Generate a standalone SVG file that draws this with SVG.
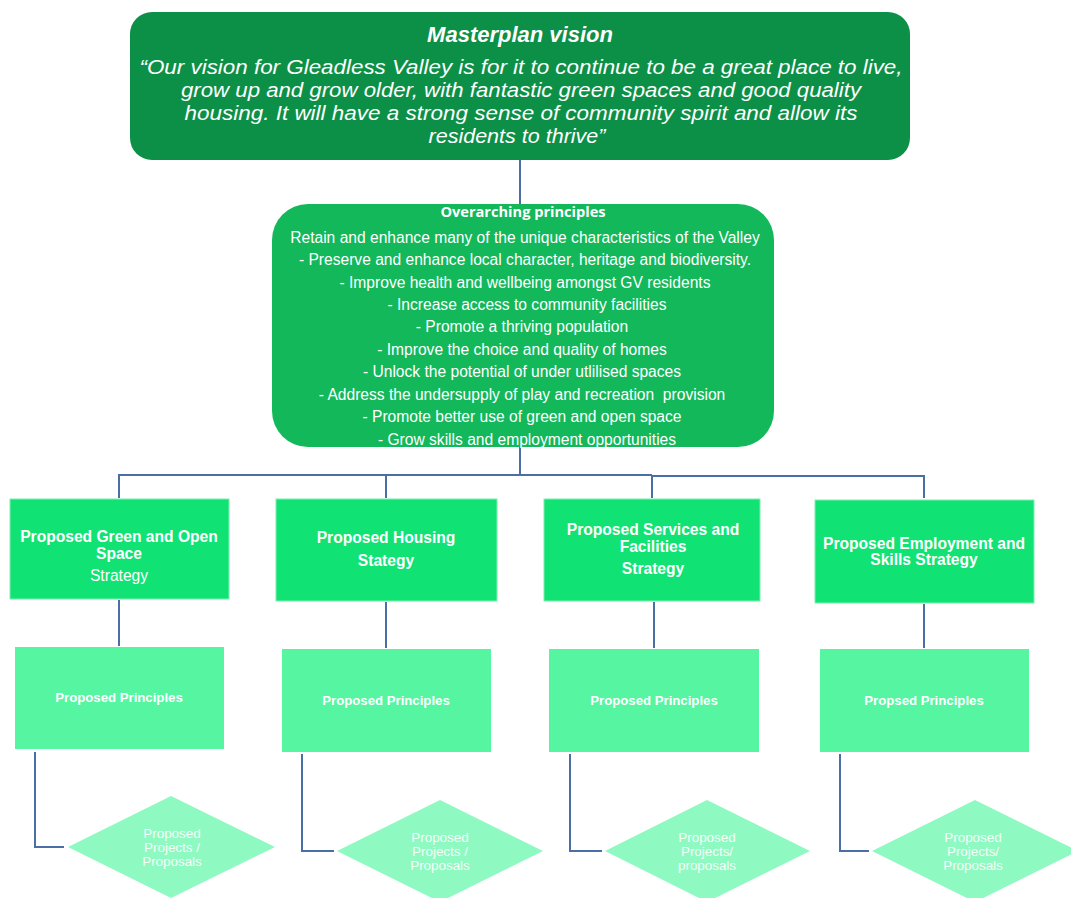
<svg xmlns="http://www.w3.org/2000/svg" width="1071" height="898" viewBox="0 0 1071 898">
<style>
text{font-family:"Liberation Sans",Arial,sans-serif;fill:#fff;text-anchor:middle}
.q{font-size:20px;font-style:italic}
.t{font-size:22px;font-style:italic;font-weight:bold}
.op{font-size:15.6px}
.oh{font-family:"Open Sans","Liberation Sans",sans-serif;font-size:14.6px;font-weight:bold}
.sb{font-size:15.6px;font-weight:bold}
.sn{font-size:15.6px}
.pb{font-size:13.2px;font-weight:bold}
.dt{font-size:13.4px;fill:#f4fff8}
.strat{fill:#10e373;stroke:#7cf0b0;stroke-width:1}
.prin{fill:#55f5a1}
.dia{fill:#8ff9c2}
.con{fill:none;stroke:#4a6fa5;stroke-width:2}
</style>
<g id="connectors">
<path class="con" d="M520 160V205"/>
<path class="con" d="M520 447V475"/>
<path class="con" d="M119 498V475H652"/>
<path class="con" d="M652 476H924V498"/>
<path class="con" d="M386 475V498"/>
<path class="con" d="M652 475V498"/>
<path class="con" d="M119 600V646"/>
<path class="con" d="M386 602V648"/>
<path class="con" d="M654 602V648"/>
<path class="con" d="M924 604V648"/>
<path class="con" d="M35 752V847H64"/>
<path class="con" d="M302 754V851H334"/>
<path class="con" d="M570 754V851H602"/>
<path class="con" d="M840 754V851H869"/>
</g>
<g id="vision">
<rect x="130" y="12" width="780" height="148" rx="22" fill="#0c9047"/>
<text class="t" x="520" y="42">Masterplan vision</text>
<text class="q" x="521" y="74" textLength="763" lengthAdjust="spacingAndGlyphs">“Our vision for Gleadless Valley is for it to continue to be a great place to live,</text>
<text class="q" x="521" y="97" textLength="680" lengthAdjust="spacingAndGlyphs">grow up and grow older, with fantastic green spaces and good quality</text>
<text class="q" x="521" y="120" textLength="673" lengthAdjust="spacingAndGlyphs">housing. It will have a strong sense of community spirit and allow its</text>
<text class="q" x="517" y="143" textLength="177" lengthAdjust="spacingAndGlyphs">residents to thrive”</text>
</g>
<g id="principles">
<rect x="272" y="204" width="502" height="243" rx="36" fill="#12b85a"/>
<text class="oh" x="523" y="217">Overarching principles</text>
<text class="op" x="525" y="243">Retain and enhance many of the unique characteristics of the Valley</text>
<text class="op" x="525" y="265">- Preserve and enhance local character, heritage and biodiversity.</text>
<text class="op" x="525" y="288">- Improve health and wellbeing amongst GV residents</text>
<text class="op" x="527" y="310">- Increase access to community facilities</text>
<text class="op" x="522" y="332">- Promote a thriving population</text>
<text class="op" x="522" y="355">- Improve the choice and quality of homes</text>
<text class="op" x="522" y="377">- Unlock the potential of under utlilised spaces</text>
<text class="op" x="522" y="400">- Address the undersupply of play and recreation&#160; provision</text>
<text class="op" x="522" y="422">- Promote better use of green and open space</text>
<text class="op" x="527" y="445">- Grow skills and employment opportunities</text>
</g>
<g id="strategy-green">
<rect class="strat" x="10" y="499" width="219" height="100"/>
<text class="sb" x="119" y="542">Proposed Green and Open</text>
<text class="sb" x="119" y="559">Space</text>
<text class="sn" x="119" y="581">Strategy</text>
</g>
<g id="strategy-housing">
<rect class="strat" x="276" y="499" width="221" height="102"/>
<text class="sb" x="386" y="543">Proposed Housing</text>
<text class="sb" x="386" y="566">Stategy</text>
</g>
<g id="strategy-services">
<rect class="strat" x="544" y="499" width="216" height="102"/>
<text class="sb" x="653" y="535">Proposed Services and</text>
<text class="sb" x="653" y="552">Facilities</text>
<text class="sb" x="653" y="574">Strategy</text>
</g>
<g id="strategy-employment">
<rect class="strat" x="815" y="500" width="219" height="103"/>
<text class="sb" x="924" y="549">Proposed Employment and</text>
<text class="sb" x="924" y="565">Skills Strategy</text>
</g>
<g id="principles-green">
<rect class="prin" x="15" y="647" width="209" height="102"/>
<text class="pb" x="119" y="702">Proposed Principles</text>
</g>
<g id="principles-housing">
<rect class="prin" x="282" y="649" width="209" height="103"/>
<text class="pb" x="386" y="705">Proposed Principles</text>
</g>
<g id="principles-services">
<rect class="prin" x="549" y="649" width="210" height="103"/>
<text class="pb" x="654" y="705">Proposed Principles</text>
</g>
<g id="principles-employment">
<rect class="prin" x="820" y="649" width="209" height="103"/>
<text class="pb" x="924" y="705">Propsed Principles</text>
</g>
<g id="projects-green">
<polygon class="dia" points="68,847 171,796 275,847 171,898"/>
<text class="dt" x="172" y="838">Proposed</text>
<text class="dt" x="172" y="852">Projects /</text>
<text class="dt" x="172" y="866">Proposals</text>
</g>
<g id="projects-housing">
<polygon class="dia" points="337,851 440,800 543,851 440,902"/>
<text class="dt" x="440" y="842">Proposed</text>
<text class="dt" x="440" y="856">Projects /</text>
<text class="dt" x="440" y="870">Proposals</text>
</g>
<g id="projects-services">
<polygon class="dia" points="605,851 707,800 810,851 707,902"/>
<text class="dt" x="707" y="842">Proposed</text>
<text class="dt" x="707" y="856">Projects/</text>
<text class="dt" x="707" y="870">proposals</text>
</g>
<g id="projects-employment">
<polygon class="dia" points="872,851 975,800 1078,851 975,902"/>
<text class="dt" x="973" y="842">Proposed</text>
<text class="dt" x="973" y="856">Projects/</text>
<text class="dt" x="973" y="870">Proposals</text>
</g>
</svg>
